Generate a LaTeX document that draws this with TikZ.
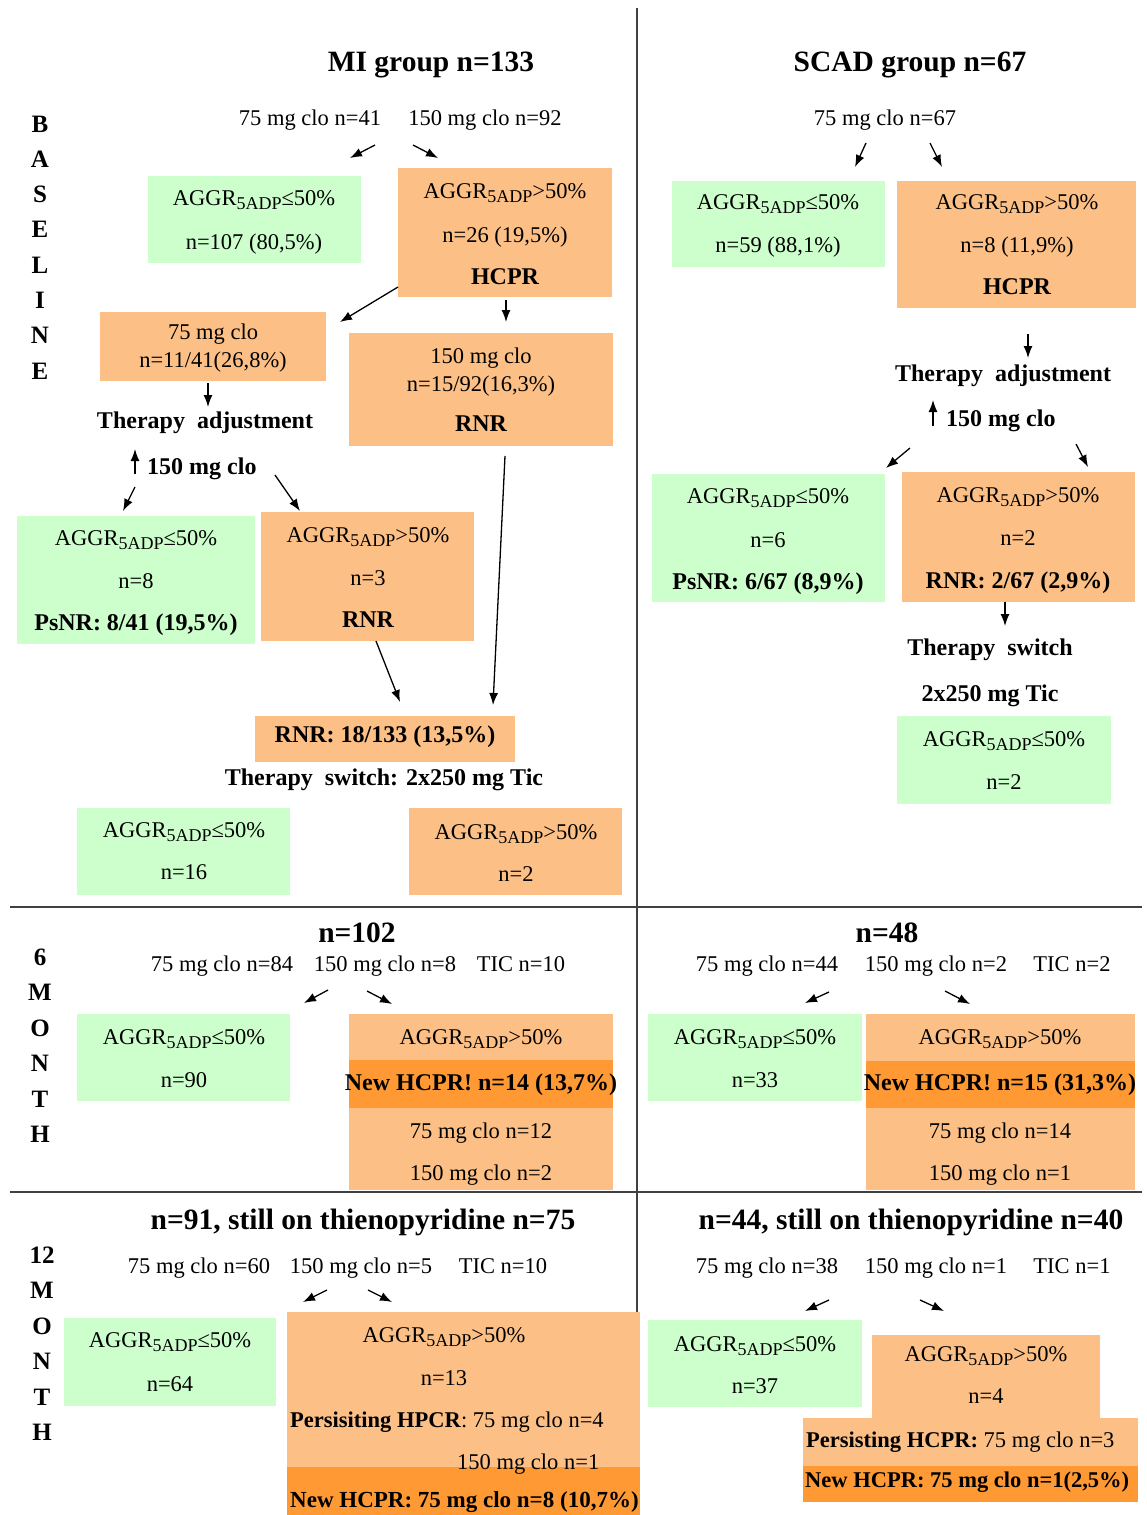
\documentclass[tikz,border=0pt]{standalone}
\usepackage{fontspec}
\setmainfont{Liberation Serif}
\usetikzlibrary{arrows.meta}
\definecolor{gfill}{RGB}{204,255,204}
\definecolor{ofill}{RGB}{252,192,134}
\definecolor{dfill}{RGB}{255,153,51}
\newcommand\ag[1]{AGGR\raisebox{-4pt}{\fontsize{18}{18}\selectfont 5ADP}#1}
\newcommand\bx[6]{\node[#1, minimum width={#5-#3}, minimum height={#6-#4}] (#2) at ({(#3+#5)/2},{(#4+#6)/2}) {};}
\tikzset{
  txt/.style={inner sep=0pt, text height=19pt, text depth=5pt, font=\fontsize{22.5}{26}\selectfont},
  btxt/.style={inner sep=0pt, text height=19pt, text depth=5pt, font=\fontsize{24}{28}\selectfont\bfseries},
  ttl/.style={inner sep=0pt, text height=27pt, text depth=6pt, font=\fontsize{29.5}{34}\selectfont\bfseries},
  side/.style={inner sep=0pt, font=\fontsize{25}{28}\selectfont\bfseries},
  arr/.style={-{Latex[length=12pt,width=9pt]}, line width=1.3pt},
  sep/.style={line width=1.6pt, draw=black!75},
  gbox/.style={fill=gfill, draw=none, inner sep=0pt, outer sep=0pt},
  obox/.style={fill=ofill, draw=none, inner sep=0pt, outer sep=0pt},
  dbox/.style={fill=dfill, draw=none, inner sep=0pt, outer sep=0pt},
}
\begin{document}
\begin{tikzpicture}[x=1pt,y=-1pt]
\useasboundingbox (0,0) rectangle (1146,1515);
\fill[white] (0,0) rectangle (1146,1515);
% separators
\coordinate (vt) at (637,8); \coordinate (vb) at (637,1515);
\coordinate (h1l) at (10,907); \coordinate (h1r) at (1142,907);
\coordinate (h2l) at (10,1192); \coordinate (h2r) at (1142,1192);
\draw[sep] (vt) -- (vb);
\draw[sep] (h1l) -- (h1r);
\draw[sep] (h2l) -- (h2r);
% side labels
\foreach \l/\yy [count=\i] in {B/124,A/159,S/194,E/229,L/265,I/300,N/335,E/371}
  \node[side] (bl\i) at (40,\yy) {\l};
\foreach \l/\yy [count=\i] in {6/957,M/992,O/1028,N/1063,T/1099,H/1134}
  \node[side] (sm\i) at (40,\yy) {\l};
\foreach \l/\yy [count=\i] in {12/1255,M/1290,O/1326,N/1361,T/1397,H/1432}
  \node[side] (tm\i) at (42,\yy) {\l};
% ================= BASELINE LEFT
\node[ttl] (mi) at (431,61) {MI group n=133};
\node[txt] (d75) at (310,118) {75 mg clo n=41};
\node[txt] (d150) at (485,118) {150 mg clo n=92};
\coordinate (a1s) at (375,145); \coordinate (a1e) at (350,158);
\coordinate (a2s) at (413,145); \coordinate (a2e) at (438,158);
\draw[arr] (a1s) -- (a1e);
\draw[arr] (a2s) -- (a2e);
\bx{gbox}{g1}{148}{176}{361}{263}
\node[txt] (g1a) at (254,198) {\ag{≤50\%}};
\node[txt] (g1b) at (254,242) {n=107 (80,5\%)};
\bx{obox}{o1}{398}{168}{612}{297}
\node[txt] (o1a) at (505,191) {\ag{>50\%}};
\node[txt] (o1b) at (505,235) {n=26 (19,5\%)};
\node[btxt] (o1c) at (505,277) {HCPR};
\bx{obox}{o2}{100}{312}{326}{381}
\node[txt] (o2a) at (213,332) {75 mg clo};
\node[txt] (o2b) at (213,360) {n=11/41(26,8\%)};
\bx{obox}{o3}{349}{333}{613}{446}
\node[txt] (o3a) at (481,356) {150 mg clo};
\node[txt] (o3b) at (481,384) {n=15/92(16,3\%)};
\node[btxt] (o3c) at (481,424) {RNR};
\coordinate (a3s) at (398,287); \coordinate (a3e) at (340,322);
\draw[arr] (a3s) -- (a3e);
\coordinate (a4s) at (506,300); \coordinate (a4e) at (506,322);
\draw[arr] (a4s) -- (a4e);
\coordinate (a5s) at (208,383); \coordinate (a5e) at (208,407);
\draw[arr] (a5s) -- (a5e);
\node[btxt] (ta1) at (205,421) {Therapy\hspace{0.5em}adjustment};
\coordinate (a6s) at (135,474); \coordinate (a6e) at (135,449);
\draw[arr] (a6s) -- (a6e);
\node[btxt, anchor=west] (c150a) at (147,467) {150 mg clo};
\coordinate (a7s) at (135,487); \coordinate (a7e) at (123,511);
\draw[arr] (a7s) -- (a7e);
\coordinate (a8s) at (275,475); \coordinate (a8e) at (300,511);
\draw[arr] (a8s) -- (a8e);
\bx{gbox}{g2}{17}{516}{255}{644}
\node[txt] (g2a) at (136,538) {\ag{≤50\%}};
\node[txt] (g2b) at (136,581) {n=8};
\node[btxt] (g2c) at (136,623) {PsNR: 8/41 (19,5\%)};
\bx{obox}{o4}{261}{512}{474}{641}
\node[txt] (o4a) at (368,535) {\ag{>50\%}};
\node[txt] (o4b) at (368,578) {n=3};
\node[btxt] (o4c) at (368,620) {RNR};
\coordinate (a9s) at (376,641); \coordinate (a9e) at (400,702);
\draw[arr] (a9s) -- (a9e);
\coordinate (a10s) at (505,456); \coordinate (a10e) at (493,705);
\draw[arr] (a10s) -- (a10e);
\bx{obox}{o5}{255}{716}{515}{762}
\node[btxt] (o5a) at (385,735) {RNR: 18/133 (13,5\%)};
\node[btxt] (ts1) at (384,778) {Therapy\hspace{0.5em}switch: 2x250 mg Tic};
\bx{gbox}{g3}{77}{808}{290}{895}
\node[txt] (g3a) at (184,830) {\ag{≤50\%}};
\node[txt] (g3b) at (184,872) {n=16};
\bx{obox}{o6}{409}{808}{622}{895}
\node[txt] (o6a) at (516,832) {\ag{>50\%}};
\node[txt] (o6b) at (516,874) {n=2};
% ================= BASELINE RIGHT
\node[ttl] (scad) at (910,61) {SCAD group n=67};
\node[txt] (r75) at (885,118) {75 mg clo n=67};
\coordinate (b1s) at (866,143); \coordinate (b1e) at (855,167);
\coordinate (b2s) at (930,143); \coordinate (b2e) at (942,167);
\draw[arr] (b1s) -- (b1e);
\draw[arr] (b2s) -- (b2e);
\bx{gbox}{g4}{672}{181}{885}{267}
\node[txt] (g4a) at (778,202) {\ag{≤50\%}};
\node[txt] (g4b) at (778,245) {n=59 (88,1\%)};
\bx{obox}{o7}{897}{181}{1136}{308}
\node[txt] (o7a) at (1017,202) {\ag{>50\%}};
\node[txt] (o7b) at (1017,245) {n=8 (11,9\%)};
\node[btxt] (o7c) at (1017,287) {HCPR};
\coordinate (b3s) at (1028,334); \coordinate (b3e) at (1028,358);
\draw[arr] (b3s) -- (b3e);
\node[btxt] (ta2) at (1003,374) {Therapy\hspace{0.5em}adjustment};
\coordinate (b4s) at (933,426); \coordinate (b4e) at (933,400);
\draw[arr] (b4s) -- (b4e);
\node[btxt, anchor=west] (c150b) at (946,419) {150 mg clo};
\coordinate (b5s) at (910,448); \coordinate (b5e) at (886,468);
\draw[arr] (b5s) -- (b5e);
\coordinate (b6s) at (1076,444); \coordinate (b6e) at (1088,467);
\draw[arr] (b6s) -- (b6e);
\bx{gbox}{g5}{652}{474}{885}{602}
\node[txt] (g5a) at (768,496) {\ag{≤50\%}};
\node[txt] (g5b) at (768,540) {n=6};
\node[btxt] (g5c) at (768,582) {PsNR: 6/67 (8,9\%)};
\bx{obox}{o8}{902}{472}{1135}{602}
\node[txt] (o8a) at (1018,495) {\ag{>50\%}};
\node[txt] (o8b) at (1018,538) {n=2};
\node[btxt] (o8c) at (1018,581) {RNR: 2/67 (2,9\%)};
\coordinate (b7s) at (1005,602); \coordinate (b7e) at (1005,626);
\draw[arr] (b7s) -- (b7e);
\node[btxt] (ts2) at (990,648) {Therapy\hspace{0.5em}switch};
\node[btxt] (ts3) at (990,694) {2x250 mg Tic};
\bx{gbox}{g6}{897}{716}{1111}{804}
\node[txt] (g6a) at (1004,739) {\ag{≤50\%}};
\node[txt] (g6b) at (1004,782) {n=2};
% ================= 6 MONTH
\node[ttl] (m6l) at (357,932) {n=102};
\node[ttl] (m6r) at (887,932) {n=48};
\node[txt] (m6a) at (222,964) {75 mg clo n=84};
\node[txt] (m6b) at (385,964) {150 mg clo n=8};
\node[txt] (m6c) at (521,964) {TIC n=10};
\coordinate (c1s) at (328,990); \coordinate (c1e) at (304,1003);
\coordinate (c2s) at (367,991); \coordinate (c2e) at (392,1004);
\draw[arr] (c1s) -- (c1e);
\draw[arr] (c2s) -- (c2e);
\bx{gbox}{g7}{77}{1014}{290}{1101}
\node[txt] (g7a) at (184,1037) {\ag{≤50\%}};
\node[txt] (g7b) at (184,1080) {n=90};
\bx{obox}{o9}{349}{1014}{613}{1190}
\bx{dbox}{d1}{349}{1060}{613}{1108}
\node[txt] (o9a) at (481,1037) {\ag{>50\%}};
\node[btxt] (o9b) at (481,1083) {New HCPR! n=14 (13,7\%)};
\node[txt] (o9c) at (481,1131) {75 mg clo n=12};
\node[txt] (o9d) at (481,1173) {150 mg clo n=2};
\node[txt] (m6d) at (767,964) {75 mg clo n=44};
\node[txt] (m6e) at (936,964) {150 mg clo n=2};
\node[txt] (m6f) at (1072,964) {TIC n=2};
\coordinate (c3s) at (829,992); \coordinate (c3e) at (805,1003);
\coordinate (c4s) at (945,991); \coordinate (c4e) at (970,1004);
\draw[arr] (c3s) -- (c3e);
\draw[arr] (c4s) -- (c4e);
\bx{gbox}{g8}{648}{1014}{862}{1101}
\node[txt] (g8a) at (755,1037) {\ag{≤50\%}};
\node[txt] (g8b) at (755,1080) {n=33};
\bx{obox}{o10}{866}{1014}{1135}{1190}
\bx{dbox}{d2}{866}{1061}{1135}{1108}
\node[txt] (o10a) at (1000,1037) {\ag{>50\%}};
\node[btxt] (o10b) at (1000,1083) {New HCPR! n=15 (31,3\%)};
\node[txt] (o10c) at (1000,1131) {75 mg clo n=14};
\node[txt] (o10d) at (1000,1173) {150 mg clo n=1};
% ================= 12 MONTH
\node[ttl] (m12l) at (363,1219) {n=91, still on thienopyridine n=75};
\node[ttl] (m12r) at (911,1219) {n=44, still on thienopyridine n=40};
\node[txt] (m12a) at (199,1266) {75 mg clo n=60};
\node[txt] (m12b) at (361,1266) {150 mg clo n=5};
\node[txt] (m12c) at (503,1266) {TIC n=10};
\coordinate (e1s) at (327,1290); \coordinate (e1e) at (303,1302);
\coordinate (e2s) at (368,1290); \coordinate (e2e) at (392,1302);
\draw[arr] (e1s) -- (e1e);
\draw[arr] (e2s) -- (e2e);
\bx{gbox}{g9}{64}{1318}{276}{1406}
\node[txt] (g9a) at (170,1340) {\ag{≤50\%}};
\node[txt] (g9b) at (170,1384) {n=64};
\bx{obox}{o11}{287}{1312}{640}{1467}
\bx{dbox}{d3}{287}{1467}{640}{1515}
\node[txt] (o11a) at (444,1335) {\ag{>50\%}};
\node[txt] (o11b) at (444,1378) {n=13};
\node[txt, anchor=west] (o11c) at (290,1420) {\textbf{Persisiting HPCR}: 75 mg clo n=4};
\node[txt, anchor=west] (o11d) at (457,1462) {150 mg clo n=1};
\node[btxt, anchor=west, font=\fontsize{23}{27}\selectfont\bfseries] (d3a) at (290,1500) {New HCPR: 75 mg clo n=8 (10,7\%)};
\node[txt] (m12d) at (767,1266) {75 mg clo n=38};
\node[txt] (m12e) at (936,1266) {150 mg clo n=1};
\node[txt] (m12f) at (1072,1266) {TIC n=1};
\coordinate (e3s) at (829,1300); \coordinate (e3e) at (805,1311);
\coordinate (e4s) at (920,1300); \coordinate (e4e) at (944,1311);
\draw[arr] (e3s) -- (e3e);
\draw[arr] (e4s) -- (e4e);
\bx{gbox}{g10}{648}{1320}{862}{1407}
\node[txt] (g10a) at (755,1344) {\ag{≤50\%}};
\node[txt] (g10b) at (755,1386) {n=37};
\bx{obox}{o12}{872}{1335}{1100}{1418}
\node[txt] (o12a) at (986,1354) {\ag{>50\%}};
\node[txt] (o12b) at (986,1396) {n=4};
\bx{obox}{o13}{803}{1418}{1138}{1466}
\node[txt, anchor=west] (o13a) at (806,1440) {\textbf{Persisting HCPR:} 75 mg clo n=3};
\bx{dbox}{d4}{803}{1466}{1138}{1502}
\node[btxt, anchor=west, font=\fontsize{22.5}{27}\selectfont\bfseries] (d4a) at (805,1480) {New HCPR: 75 mg clo n=1(2,5\%)};
\end{tikzpicture}
\end{document}
